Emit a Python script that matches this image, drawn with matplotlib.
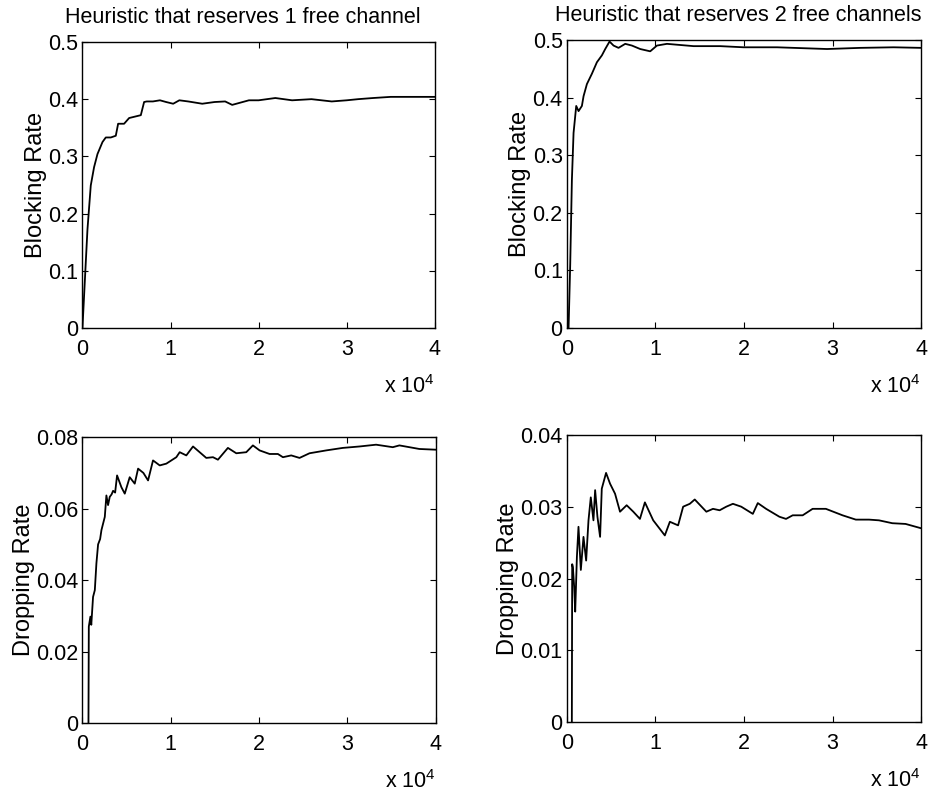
import matplotlib
matplotlib.use("Agg")
import matplotlib.pyplot as plt

plt.rcParams["font.family"] = ["Liberation Sans", "DejaVu Sans"]
plt.rcParams["mathtext.fontset"] = "custom"
plt.rcParams["mathtext.rm"] = "Liberation Sans"

# blocking rate, heuristic reserving 1 free channel
blk1_x = [0, 375, 568, 943, 1318, 1705, 2273, 2648, 3216, 3784, 4050, 4727,
          5300, 6625, 7000, 7300, 8000, 8800, 9500, 10300, 11000, 12000,
          13600, 15000, 16200, 17000, 18900, 20000, 21900, 23800, 26000,
          28300, 30000, 31300, 33000, 35000, 38400, 40000]
blk1_y = [0, 0.114, 0.172, 0.249, 0.281, 0.304, 0.325, 0.333, 0.333, 0.336,
          0.357, 0.357, 0.367, 0.372, 0.395, 0.396, 0.396, 0.398, 0.395,
          0.392, 0.398, 0.396, 0.392, 0.395, 0.396, 0.390, 0.398, 0.398,
          0.402, 0.398, 0.400, 0.396, 0.398, 0.400, 0.402, 0.404, 0.404, 0.404]

# blocking rate, heuristic reserving 2 free channels
blk2_x = [190, 377, 565, 753, 1055, 1318, 1695, 1883, 2260, 2825, 3390,
          3955, 4330, 4816, 5270, 5830, 6590, 7345, 8280, 9410, 10170,
          11300, 12800, 14310, 17320, 19960, 23730, 29380, 33140, 36900, 40000]
blk2_y = [0, 0.111, 0.257, 0.339, 0.386, 0.377, 0.386, 0.403, 0.424, 0.442,
          0.462, 0.474, 0.485, 0.498, 0.491, 0.487, 0.494, 0.491, 0.485,
          0.481, 0.491, 0.494, 0.492, 0.490, 0.490, 0.488, 0.488, 0.485,
          0.487, 0.488, 0.487]

# dropping rate, 1 free channel
drp1_x = [680, 720, 900, 1000, 1200, 1400, 1580, 1770, 2000, 2150, 2530,
          2710, 2900, 3090, 3300, 3470, 3700, 3920, 4410, 4790, 5350, 5920,
          6300, 6900, 7430, 7990, 8750, 9500, 10630, 11010, 11760, 12520,
          13270, 14020, 14780, 15340, 16470, 17420, 18550, 19300, 20060,
          21190, 22130, 22700, 23640, 24580, 25710, 27600, 29480, 31370,
          33250, 35140, 35890, 37020, 38150, 40000]
drp1_y = [0, 0.027, 0.0298, 0.0275, 0.0353, 0.0372, 0.0447, 0.050, 0.0515,
          0.054, 0.0577, 0.0637, 0.061, 0.0633, 0.064, 0.065, 0.0645,
          0.0693, 0.066, 0.0642, 0.0688, 0.067, 0.0712, 0.070, 0.0679,
          0.0735, 0.0721, 0.0726, 0.0744, 0.0758, 0.0749, 0.0774, 0.0758,
          0.0742, 0.0744, 0.0737, 0.077, 0.0755, 0.0758, 0.0777, 0.0763,
          0.0753, 0.0753, 0.0744, 0.0749, 0.0742, 0.0755, 0.0763, 0.077,
          0.0774, 0.0779, 0.0772, 0.0777, 0.0772, 0.0767, 0.0765]

# dropping rate, 2 free channels
drp2_x = [560, 600, 675, 825, 940, 1130, 1310, 1575, 1875, 2175, 2440, 2700,
          3000, 3190, 3450, 3750, 3940, 4425, 4875, 5440, 6000, 6750, 7500,
          8250, 8810, 9750, 10500, 11060, 11630, 12560, 13130, 13880, 14440,
          15750, 16500, 17250, 18000, 18750, 19690, 21000, 21560, 22500,
          24000, 24750, 25500, 26630, 27750, 29250, 31130, 32630, 34130,
          35250, 36750, 38250, 40000]
drp2_y = [0, 0.022, 0.0216, 0.0188, 0.0154, 0.023, 0.0272, 0.0212, 0.0258,
          0.0225, 0.0281, 0.0313, 0.0281, 0.0323, 0.0286, 0.0258, 0.0325,
          0.0347, 0.0332, 0.0318, 0.0293, 0.0302, 0.0293, 0.0283, 0.0306,
          0.0281, 0.0269, 0.026, 0.0279, 0.0274, 0.030, 0.0304, 0.031,
          0.0293, 0.0297, 0.0295, 0.030, 0.0304, 0.030, 0.029, 0.0305,
          0.0297, 0.0286, 0.0283, 0.0288, 0.0288, 0.0297, 0.0297, 0.0288,
          0.0282, 0.0282, 0.0281, 0.0277, 0.0276, 0.027]

x_ticks = [0, 10000, 20000, 30000, 40000]
x_ticklabels = ["0", "1", "2", "3", "4"]

PANELS = [
    # (rect, x, y, yticks, yticklabels, ylabel, title, title x)
    ([0.088, 0.586, 0.376, 0.361], blk1_x, blk1_y,
     [0, 0.1, 0.2, 0.3, 0.4, 0.5], ["0", "0.1", "0.2", "0.3", "0.4", "0.5"],
     "Blocking Rate", "Heuristic that reserves 1 free channel", 0.455),
    ([0.605, 0.586, 0.378, 0.363], blk2_x, blk2_y,
     [0, 0.1, 0.2, 0.3, 0.4, 0.5], ["0", "0.1", "0.2", "0.3", "0.4", "0.5"],
     "Blocking Rate", "Heuristic that reserves 2 free channels", 0.483),
    ([0.088, 0.087, 0.377, 0.361], drp1_x, drp1_y,
     [0, 0.02, 0.04, 0.06, 0.08], ["0", "0.02", "0.04", "0.06", "0.08"],
     "Dropping Rate", None, 0.5),
    ([0.605, 0.088, 0.378, 0.363], drp2_x, drp2_y,
     [0, 0.01, 0.02, 0.03, 0.04], ["0", "0.01", "0.02", "0.03", "0.04"],
     "Dropping Rate", None, 0.5),
]

fig = plt.figure(figsize=(9.37, 7.92), dpi=100)

for rect, xs, ys, yt, ytl, ylab, title, tx in PANELS:
    ax = fig.add_axes(rect)
    ax.plot(xs, ys, color="black", lw=1.3)
    ax.set_xlim(0, 40000)
    ax.set_ylim(yt[0], yt[-1])
    ax.set_xticks(x_ticks)
    ax.set_xticklabels(x_ticklabels)
    ax.set_yticks(yt)
    ax.set_yticklabels(ytl)
    ax.tick_params(direction="in", top=True, right=True, length=4,
                   width=0.8, labelsize=15.5)
    ax.tick_params(axis="y", pad=3)
    ax.tick_params(axis="x", pad=8)
    for sp in ax.spines.values():
        sp.set_linewidth(1.0)
    ax.set_ylabel(ylab, fontsize=17, labelpad=1)
    if title:
        ax.set_title(title, fontsize=15.5, pad=14, x=tx)
    # MATLAB-style exponent label under the right end of the x axis
    ax.annotate(r"x 10$^{4}$", xy=(1, 0), xycoords="axes fraction",
                xytext=(0, -65), textcoords="offset pixels",
                ha="right", va="baseline", fontsize=15.5)

fig.savefig("out.png", dpi=100)
